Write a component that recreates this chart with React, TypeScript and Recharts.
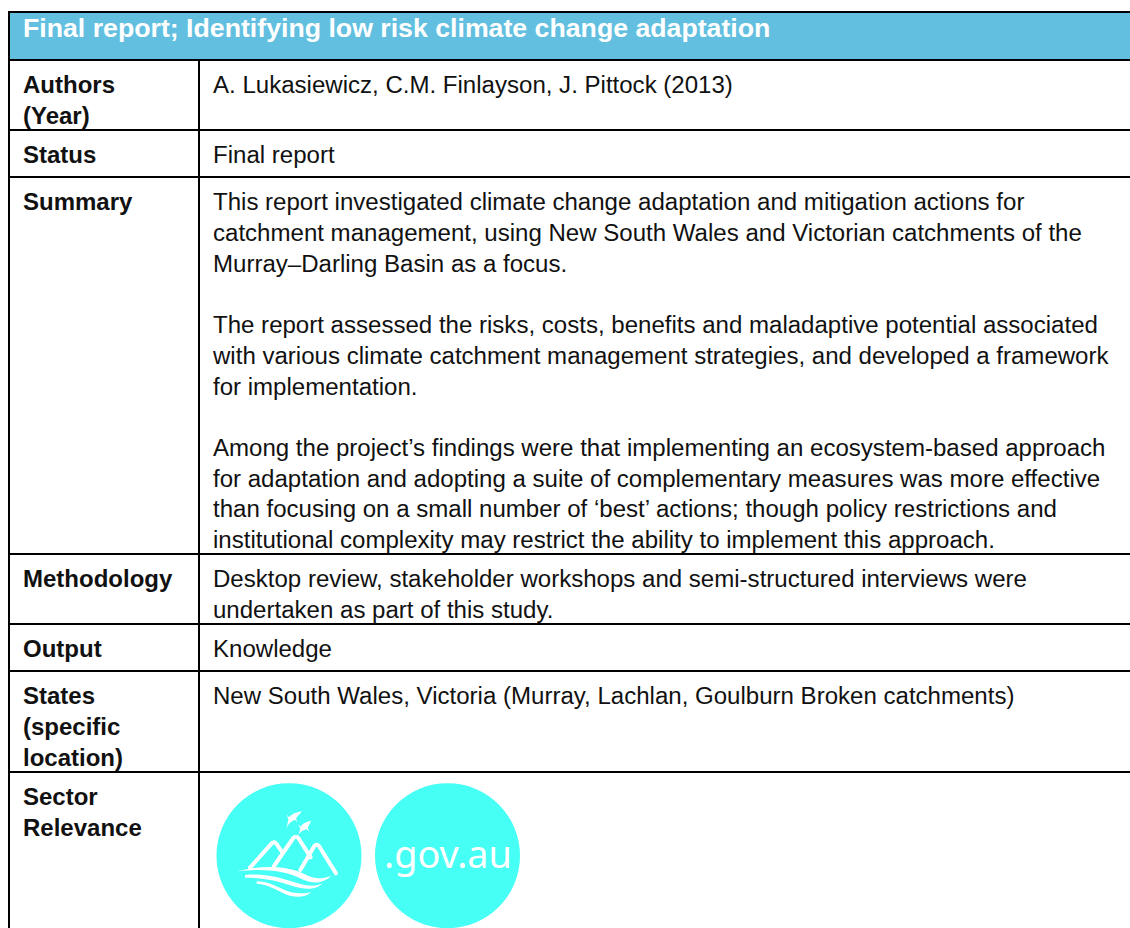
import { ComposedChart, XAxis, YAxis, ReferenceArea, ReferenceLine, Scatter } from 'recharts';

const title = 'Final report; Identifying low risk climate change adaptation';

const rowEdges = [60, 130, 177, 554, 624, 671, 772, 928];

const rowLabels = [
  ['Authors', '(Year)'],
  ['Status'],
  ['Summary'],
  ['Methodology'],
  ['Output'],
  ['States', '(specific', 'location)'],
  ['Sector', 'Relevance'],
];

const rowBodies = [
  ['A. Lukasiewicz, C.M. Finlayson, J. Pittock (2013)'],
  ['Final report'],
  [
    'This report investigated climate change adaptation and mitigation actions for',
    'catchment management, using New South Wales and Victorian catchments of the',
    'Murray–Darling Basin as a focus.',
    '',
    'The report assessed the risks, costs, benefits and maladaptive potential associated',
    'with various climate catchment management strategies, and developed a framework',
    'for implementation.',
    '',
    'Among the project’s findings were that implementing an ecosystem-based approach',
    'for adaptation and adopting a suite of complementary measures was more effective',
    'than focusing on a small number of ‘best’ actions; though policy restrictions and',
    'institutional complexity may restrict the ability to implement this approach.',
  ],
  [
    'Desktop review, stakeholder workshops and semi-structured interviews were',
    'undertaken as part of this study.',
  ],
  ['Knowledge'],
  ['New South Wales, Victoria (Murray, Lachlan, Goulburn Broken catchments)'],
  [],
];

const badges = [
  { x: 289, y: 855.7, name: 'climate' },
  { x: 447.5, y: 855.7, name: '.gov.au' },
];

const WIDTH = 1130;
const HEIGHT = 928;
const LINE = 30.7;

const toLines = (rows: string[][], x: number) =>
  rows.flatMap((lines, r) =>
    lines
      .map((text, i) => ({ x, y: rowEdges[r] + 33.4 + i * LINE, text }))
      .filter((d) => d.text),
  );

const labelLines = toLines(rowLabels, 23);
const bodyLines = toLines(rowBodies, 213);

const TextLine = (bold: boolean) => (props: any) => (
  <text
    x={props.cx}
    y={props.cy}
    fontFamily="Liberation Sans"
    fontSize={bold ? 24 : 24.05}
    fontWeight={bold ? 700 : 400}
    fill="#111"
  >
    {props.payload.text}
  </text>
);

// mountains, water and birds
const ClimateIcon = ({ cx, cy }: { cx: number; cy: number }) => (
  <g transform={`translate(${cx - 99},${cy - 85.7}) scale(0.3333)`}>
    <g fill="none" stroke="#fff" strokeWidth={12} strokeLinejoin="round" strokeLinecap="round">
      <path d="M180 293 L245 220 Q253 213 260 222 L276 246" />
      <path d="M252 288 L310 204 Q318 196 325 204 L362 262" />
      <path d="M331 300 L373 228 Q380 220 387 228 L438 310" />
    </g>
    <path d="M143 304 C215 283 300 288 345 313 C375 330 400 326 425 317 C400 340 370 344 335 327 C290 303 220 294 143 304 Z" fill="#fff" />
    <path d="M165 315 C240 308 295 333 335 343 C360 350 385 348 398 340 C380 360 345 360 310 349 C270 335 225 323 165 323 Z" fill="#fff" />
    <path d="M200 334 C250 333 275 366 320 369 C340 370 352 370 364 366 C345 384 310 384 285 372 C255 357 235 344 200 341 Z" fill="#fff" />
    <path d="M336 124 C316 127 306 132 298 142 L291 134 L295 150 L289 177 C296 160 304 152 316 150 L322 157 L318 145 Z" fill="#fff" />
    <path d="M364 152 C346 156 338 160 333 170 L325 163 L331 176 L325 197 C332 184 340 180 350 178 L358 184 L353 173 Z" fill="#fff" />
  </g>
);

const Badge = (props: any) => (
  <g>
    <circle cx={props.cx} cy={props.cy} r={72.5} fill="#46fff5" />
    {props.payload.name === 'climate' ? (
      <ClimateIcon cx={props.cx} cy={props.cy} />
    ) : (
      <text x={props.cx + 0.5} y={props.cy + 12.5} textAnchor="middle" fontFamily="Noto Sans" fontSize={37.8} fill="#fff">
        {props.payload.name}
      </text>
    )}
  </g>
);

export default function App() {
  return (
    <div style={{ position: 'absolute', left: 0, top: 0, width: WIDTH, height: HEIGHT, background: '#fff' }}>
      <ComposedChart width={WIDTH} height={HEIGHT} margin={{ top: 0, right: 0, bottom: 0, left: 0 }}>
        <XAxis type="number" dataKey="x" domain={[0, WIDTH]} hide />
        <YAxis type="number" dataKey="y" domain={[0, HEIGHT]} reversed hide />
        <ReferenceArea x1={9} x2={WIDTH} y1={12} y2={60} fill="#62bfe0" fillOpacity={1} stroke="none" />
        <ReferenceLine segment={[{ x: 8, y: 12 }, { x: WIDTH, y: 12 }]} stroke="#000" strokeWidth={2} />
        <ReferenceLine segment={[{ x: 9, y: 12 }, { x: 9, y: HEIGHT }]} stroke="#000" strokeWidth={2} />
        <ReferenceLine segment={[{ x: 199, y: 60 }, { x: 199, y: HEIGHT }]} stroke="#000" strokeWidth={2} />
        {rowEdges.slice(0, -1).map((y) => (
          <ReferenceLine key={y} segment={[{ x: 9, y }, { x: WIDTH, y }]} stroke="#000" strokeWidth={2} />
        ))}
        <Scatter
          data={[{ x: 23, y: 37, text: title }]}
          isAnimationActive={false}
          shape={(props: any) => (
            <text x={props.cx} y={props.cy} fontFamily="Liberation Sans" fontSize={26.7} fontWeight={700} fill="#fff">
              {props.payload.text}
            </text>
          )}
        />
        <Scatter data={labelLines} isAnimationActive={false} shape={TextLine(true)} />
        <Scatter data={bodyLines} isAnimationActive={false} shape={TextLine(false)} />
        <Scatter data={badges} isAnimationActive={false} shape={Badge} />
      </ComposedChart>
    </div>
  );
}
